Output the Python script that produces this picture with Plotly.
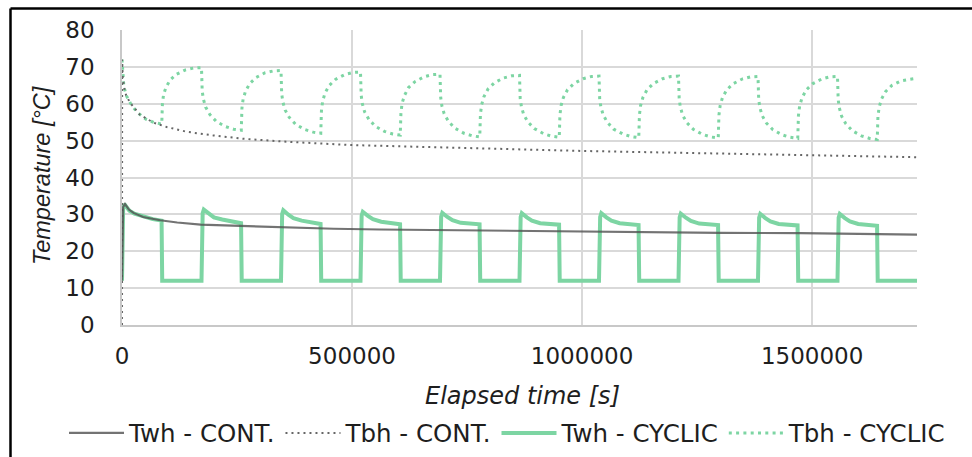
import plotly.graph_objects as go

# ---------------- data ----------------
PERIOD = 172800          # one ON/OFF cycle [s]
HALF = 86400             # half cycle [s]
X_MAX = 1728000

x_ticks = [0, 500000, 1000000, 1500000]
y_ticks = [0, 10, 20, 30, 40, 50, 60, 70, 80]

# Twh - CONT.
twh_cont_t = [0, 2500, 6500, 15000, 25000, 46000, 83000, 120000, 171000, 250000,
              345000, 460000, 560000, 700000, 850000, 1000000, 1130000, 1300000,
              1475000, 1600000, 1728000]
twh_cont_v = [12.0, 32.0, 32.8, 31.3, 30.4, 29.3, 28.4, 27.8, 27.2, 26.9,
              26.4, 26.1, 25.9, 25.7, 25.5, 25.3, 25.2, 25.0,
              24.9, 24.7, 24.5]

# Tbh - CONT.
tbh_cont_t = [0, 300, 1500, 4300, 9000, 17400, 39000, 68000, 97000, 140600,
              198500, 263800, 358000, 495600, 705800, 1000000, 1256000,
              1500000, 1728000]
tbh_cont_v = [0.0, 72.0, 67.5, 64.5, 62.3, 60.3, 57.0, 54.9, 53.7, 52.4,
              51.4, 50.5, 49.7, 48.8, 48.1, 47.2, 46.6,
              46.0, 45.5]

# Twh - CYCLIC : sample times inside each cycle, values per cycle
twh_cyc_offsets = [0, 2500, 5000, 16000, 27000, 45000, 67000, 86000, 87400]
twh_cyc_values = [
    [12, 31.8, 32.8, 31.0, 30.2, 29.4, 28.7, 28.3, 12],
    [12, 30.3, 31.3, 30.1, 29.2, 28.6, 28.0, 27.6, 12],
    [12, 30.1, 31.1, 29.9, 29.0, 28.3, 27.8, 27.4, 12],
    [12, 29.7, 30.7, 29.6, 28.7, 28.0, 27.6, 27.3, 12],
    [12, 29.4, 30.4, 29.3, 28.4, 27.7, 27.5, 27.3, 12],
    [12, 29.3, 30.3, 29.2, 28.3, 27.6, 27.4, 27.2, 12],
    [12, 29.3, 30.3, 29.2, 28.3, 27.6, 27.3, 27.1, 12],
    [12, 29.2, 30.2, 29.1, 28.2, 27.5, 27.3, 27.1, 12],
    [12, 29.1, 30.1, 29.0, 28.1, 27.4, 27.2, 27.0, 12],
    [12, 29.1, 30.1, 29.0, 28.1, 27.4, 27.1, 26.9, 12],
]
twh_cyc_end = 12

# Tbh - CYCLIC : sample times inside each half cycle, values per half (ON, OFF, ON, ...)
tbh_half_offsets = [0, 1500, 4000, 9000, 18000, 32000, 52000, 70000]
tbh_cyc_halves = [
    [72.0, 67.5, 64.8, 62.3, 60.2, 57.8, 55.8, 54.9],
    [54.5, 60.2, 62.5, 64.4, 66.4, 68.0, 69.2, 69.7],
    [69.8, 63.5, 61.3, 59.1, 57.1, 55.2, 53.8, 53.1],
    [52.8, 58.8, 61.2, 63.3, 65.4, 67.1, 68.4, 68.9],
    [69.0, 62.7, 60.5, 58.3, 56.3, 54.4, 53.0, 52.3],
    [52.0, 58.1, 60.6, 62.8, 64.9, 66.6, 67.9, 68.5],
    [68.6, 62.3, 60.0, 57.8, 55.8, 53.9, 52.5, 51.8],
    [51.5, 57.6, 60.1, 62.2, 64.4, 66.0, 67.3, 67.9],
    [68.0, 61.7, 59.5, 57.3, 55.3, 53.4, 52.0, 51.3],
    [51.0, 57.2, 59.7, 61.9, 64.0, 65.7, 67.0, 67.6],
    [67.7, 61.5, 59.3, 57.1, 55.1, 53.3, 51.9, 51.2],
    [50.9, 57.0, 59.5, 61.7, 63.8, 65.5, 66.8, 67.4],
    [67.5, 61.3, 59.2, 57.0, 55.0, 53.1, 51.8, 51.1],
    [50.8, 57.0, 59.5, 61.7, 63.8, 65.5, 66.8, 67.4],
    [67.5, 61.3, 59.1, 56.9, 54.9, 53.1, 51.7, 51.0],
    [50.7, 56.9, 59.4, 61.6, 63.7, 65.4, 66.7, 67.3],
    [67.4, 61.2, 59.0, 56.8, 54.8, 53.0, 51.6, 50.9],
    [50.6, 56.8, 59.3, 61.5, 63.7, 65.4, 66.7, 67.3],
    [67.4, 61.1, 58.9, 56.6, 54.6, 52.7, 51.3, 50.6],
    [50.3, 56.5, 59.0, 61.2, 63.3, 65.0, 66.2, 66.6],
]
tbh_cyc_end = 66.9

# ---------------- assemble cyclic series ----------------
twh_cyc_t, twh_cyc_v = [], []
for k, vals in enumerate(twh_cyc_values):
    for off, v in zip(twh_cyc_offsets, vals):
        twh_cyc_t.append(k * PERIOD + off)
        twh_cyc_v.append(v)
twh_cyc_t.append(X_MAX)
twh_cyc_v.append(twh_cyc_end)

tbh_cyc_t, tbh_cyc_v = [], []
for h, vals in enumerate(tbh_cyc_halves):
    for off, v in zip(tbh_half_offsets, vals):
        tbh_cyc_t.append(h * HALF + off)
        tbh_cyc_v.append(v)
tbh_cyc_t.append(X_MAX)
tbh_cyc_v.append(tbh_cyc_end)

# ---------------- styling ----------------
GREEN = "#7dd5a3"
FONT = "DejaVu Sans"
TXT = "#1e1e1e"

fig = go.Figure()
fig.add_trace(go.Scatter(x=tbh_cyc_t, y=tbh_cyc_v, mode="lines", name="Tbh - CYCLIC",
                         legendrank=4,
                         line=dict(color=GREEN, width=3, dash="3px,4.3px")))
fig.add_trace(go.Scatter(x=twh_cyc_t, y=twh_cyc_v, mode="lines", name="Twh - CYCLIC",
                         legendrank=3,
                         line=dict(color=GREEN, width=4)))
fig.add_trace(go.Scatter(x=tbh_cont_t, y=tbh_cont_v, mode="lines", name="Tbh - CONT.",
                         legendrank=2,
                         line=dict(color="#666666", width=2, dash="2px,4px")))
fig.add_trace(go.Scatter(x=twh_cont_t, y=twh_cont_v, mode="lines", name="Twh - CONT.",
                         legendrank=1,
                         line=dict(color="rgba(80,80,80,0.8)", width=2.2)))

L, R, T, B = 122, 55, 30, 132
W, H = 972, 457
pw, ph = W - L - R, H - T - B

def px_x(px):
    return (px - L) / pw

def px_y(py):
    return (H - B - py) / ph

fig.update_layout(
    width=W, height=H,
    margin=dict(l=L, r=R, t=T, b=B, pad=0, autoexpand=False),
    paper_bgcolor="white", plot_bgcolor="white",
    font=dict(family=FONT, size=23, color=TXT),
    showlegend=True,
    legend=dict(orientation="h", traceorder="normal",
                x=px_x(64), xanchor="left",
                y=px_y(433), yanchor="middle",
                font=dict(family=FONT, size=24.5, color=TXT),
                itemwidth=55, tracegroupgap=0,
                bgcolor="rgba(0,0,0,0)"),
    xaxis=dict(range=[0, X_MAX], tickvals=x_ticks, ticktext=[str(v) for v in x_ticks],
               showgrid=True, gridcolor="#d9d9d9", gridwidth=1.5,
               showline=True, linecolor="#c8c8c8", linewidth=1.5,
               zeroline=False, ticks="", ticklabelstandoff=10,
               tickfont=dict(family=FONT, size=23, color=TXT)),
    yaxis=dict(range=[0, 80], tickvals=y_ticks,
               showgrid=True, gridcolor="#d9d9d9", gridwidth=1.5,
               showline=True, linecolor="#c8c8c8", linewidth=1.5,
               zeroline=False, ticks="", ticklabelstandoff=21,
               tickfont=dict(family=FONT, size=23, color=TXT)),
    annotations=[
        dict(text="<i>Elapsed time [s]</i>", xref="paper", yref="paper",
             x=px_x(522), y=px_y(396), xanchor="center", yanchor="middle",
             showarrow=False, font=dict(family=FONT, size=24, color=TXT)),
        dict(text="<i>Temperature [°C]</i>", xref="paper", yref="paper",
             x=px_x(42), y=px_y(176), xanchor="center", yanchor="middle",
             textangle=-90, showarrow=False,
             font=dict(family="Liberation Sans", size=23.5, color=TXT)),
    ],
    shapes=[
        dict(type="line", xref="paper", yref="paper",
             x0=px_x(10.5), x1=px_x(10.5), y0=px_y(8.5), y1=px_y(470),
             line=dict(color="black", width=2.5)),
        dict(type="line", xref="paper", yref="paper",
             x0=px_x(10.5), x1=px_x(985), y0=px_y(8.5), y1=px_y(8.5),
             line=dict(color="black", width=2.5)),
    ],
)

fig.write_html("out.html")
